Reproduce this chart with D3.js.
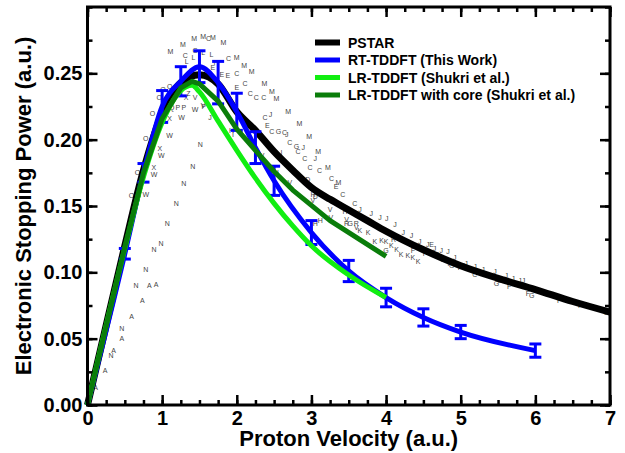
<!DOCTYPE html>
<html><head><meta charset="utf-8">
<script src="https://cdn.jsdelivr.net/npm/d3@7"></script>
<style>body{margin:0;background:#fff}svg{display:block}</style>
</head><body>
<svg id="c" width="625" height="453"></svg>
<script>
// ---------- data ----------
const xTicks = [0,1,2,3,4,5,6,7];
const yTicks = [0,0.05,0.10,0.15,0.20,0.25];
const legendLabels = ["PSTAR","RT-TDDFT (This Work)","LR-TDDFT (Shukri et al.)","LR-TDDFT with core (Shukri et al.)"];

const pstarV = [0,0.25,0.5,0.75,1.0,1.25,1.5,1.75,2.0,2.25,2.5,2.75,3.0,3.25,3.5,3.75,4.0,4.5,5.0,5.5,6.0,6.5,7.0];
const pstarS = [0,0.060,0.120,0.177,0.220,0.243,0.249,0.242,0.221,0.207,0.191,0.177,0.164,0.155,0.147,0.139,0.131,0.117,0.105,0.0955,0.087,0.078,0.070];

const rtV   = [0,0.5,0.75,1.0,1.25,1.5,1.75,2.0,2.25,2.5,3.0,3.5,4.0,4.5,5.0,6.0];
const rtS   = [0,0.114,0.175,0.225,0.244,0.255,0.243,0.221,0.194,0.169,0.130,0.101,0.081,0.066,0.055,0.041];
const rtErr = [0,0.004,0.007,0.012,0.011,0.012,0.016,0.014,0.012,0.011,0.009,0.008,0.007,0.0065,0.005,0.005];

const lrV = [0,0.5,0.75,1.0,1.25,1.4,1.5,1.75,2.0,2.25,2.5,2.75,3.0,3.5,4.0];
const lrS = [0,0.118,0.172,0.213,0.237,0.241,0.236,0.214,0.192,0.171,0.152,0.135,0.120,0.098,0.081];

const coreV = [0,0.5,0.75,1.0,1.25,1.4,1.5,1.75,2.0,2.25,2.5,2.75,3.25,4.0];
const coreS = [0,0.119,0.175,0.216,0.239,0.244,0.242,0.229,0.208,0.192,0.176,0.162,0.139,0.112];

// experimental letter markers (velocity, stopping)
const letA = [[0.11,0.013],[0.235,0.026],[0.35,0.041],[0.46,0.050],[0.59,0.067],[0.735,0.079],[0.83,0.090],[0.92,0.091]];
const letN = [[0.315,0.037],[0.46,0.058],[0.65,0.090],[0.78,0.102],[0.89,0.117],[0.985,0.122],[1.07,0.137],[1.19,0.152],[1.29,0.167],[1.41,0.180],[1.51,0.196]];
const letM = [[1.11,0.2666],[1.28,0.2716],[1.43,0.276],[1.55,0.278],[1.68,0.277],[1.82,0.273],[2.0,0.262],[2.1,0.256],[2.2,0.2515],[2.37,0.242],[2.47,0.2365],[2.53,0.2307],[2.69,0.221],[2.84,0.212],[2.97,0.2024],[3.09,0.191],[3.22,0.179],[3.36,0.168]];
const letO = [[0.59,0.158],[0.67,0.1755],[0.78,0.2007],[0.87,0.220],[0.96,0.2315],[1.01,0.238],[1.10,0.240],[1.22,0.240]];
const letW = [[0.78,0.159],[0.89,0.174],[0.99,0.188],[1.10,0.203],[1.26,0.217],[1.44,0.2225]];
const letX = [[0.89,0.179],[0.97,0.193],[1.10,0.216],[1.32,0.232]];
const letC = [[1.31,0.2634],[1.44,0.267],[1.62,0.276],[1.89,0.261],[2.0,0.2495],[2.11,0.242],[2.18,0.2345],[2.26,0.2315],[2.36,0.2315],[2.38,0.217],[2.47,0.206],[2.64,0.2057],[2.71,0.198],[2.82,0.191],[2.91,0.1856],[2.98,0.179],[3.11,0.177],[3.27,0.1706],[3.42,0.159],[3.58,0.152],[4.68,0.1135],[5.19,0.098],[5.52,0.094],[6.1,0.085]];
const letJ = [[1.64,0.217],[2.45,0.219],[2.67,0.204],[2.89,0.194],[3.05,0.186],[3.65,0.147],[3.80,0.144],[3.92,0.1417],[4.01,0.1404],[4.12,0.136],[4.23,0.130],[4.34,0.128],[4.45,0.123],[4.56,0.121],[4.65,0.118],[4.74,0.1166],[4.83,0.116],[4.92,0.111],[5.07,0.1066],[5.19,0.1046],[5.30,0.1023],[5.46,0.101],[5.61,0.0978],[5.70,0.0953],[5.79,0.094],[5.84,0.0935]];
const letK = [[3.65,0.1317],[3.76,0.1297],[3.85,0.1234],[3.94,0.124],[4.0,0.123],[4.07,0.120],[4.14,0.117],[4.2,0.1136],[4.29,0.113],[4.36,0.111],[4.43,0.108]];
const letE = [[1.68,0.2545],[1.80,0.249],[1.88,0.248],[2.0,0.2395],[2.41,0.211],[3.33,0.165],[4.61,0.121]];
const letL = [[1.33,0.259],[1.42,0.262],[1.55,0.2655],[1.66,0.2645]];
const letF = [[4.36,0.1166],[4.52,0.114],[4.76,0.110],[4.85,0.1066],[4.99,0.104],[5.03,0.1053],[5.65,0.089],[5.9,0.084],[6.32,0.079],[6.6,0.075]];
const letG = [[2.56,0.206],[2.80,0.195],[3.52,0.1367],[4.0,0.1166],[4.88,0.105],[5.48,0.0916],[5.95,0.0828],[6.95,0.0698]];
const letH = [[1.93,0.207],[2.53,0.175],[3.02,0.159],[3.05,0.137],[3.12,0.139],[3.45,0.146]];
const letV = [[1.44,0.232],[1.55,0.226],[2.27,0.19],[2.34,0.188],[2.71,0.168],[3.02,0.154],[3.25,0.147],[3.26,0.141],[3.47,0.140],[3.6,0.134]];
const letP = [[1.21,0.224],[1.29,0.224],[1.56,0.225]];
const letQ = [[1.13,0.224]];
const letR = [[3.47,0.137],[3.6,0.1367],[4.1,0.125]];
const letD = [[2.95,0.17],[3.05,0.157]];
const letI = [[1.7,0.258],[1.95,0.204],[2.6,0.19]];
const letZ = [[1.35,0.235]];

// ---------- layout ----------
const svg = d3.select("#c");
const L = 87.5, R = 610, T = 7, B = 405;
const x = d3.scaleLinear().domain([0,7]).range([L,R]);
const y = d3.scaleLinear().domain([0,0.3]).range([B,T]);
const FONT = "'Liberation Sans', Arial, Helvetica, sans-serif";

const letterSets = {A:letA,N:letN,M:letM,O:letO,W:letW,X:letX,C:letC,J:letJ,K:letK,E:letE,L:letL,F:letF,G:letG,H:letH,V:letV,P:letP,Q:letQ,R:letR,D:letD,I:letI,Z:letZ};
const letters = [];
Object.entries(letterSets).forEach(([k,arr]) => arr.forEach(p => letters.push({ch:k, v:p[0], s:p[1]})));

svg.append("g").selectAll("text").data(letters).join("text")
  .attr("x", d => x(d.v)).attr("y", d => y(d.s))
  .attr("text-anchor","middle").attr("dominant-baseline","central")
  .attr("font-family", FONT).attr("font-size", 7).attr("fill","#444")
  .text(d => d.ch);

const zip = (a,b) => a.map((v,i) => [v,b[i]]);
const lineSmooth = d3.line().x(d => x(d[0])).y(d => y(d[1])).curve(d3.curveMonotoneX);
const lineLin = d3.line().x(d => x(d[0])).y(d => y(d[1]));

svg.append("path").attr("d", lineSmooth(zip(pstarV,pstarS)))
  .attr("fill","none").attr("stroke","#000").attr("stroke-width",7).attr("stroke-linejoin","round");

svg.append("path").attr("d", lineSmooth(zip(rtV,rtS)))
  .attr("fill","none").attr("stroke","#0000ff").attr("stroke-width",5).attr("stroke-linejoin","round");

const eb = rtV.map((v,i) => ({v, s:rtS[i], e:rtErr[i]})).filter(d => d.e > 0);
const ebG = svg.append("g").attr("stroke","#0000ff").attr("stroke-width",3);
ebG.selectAll("line.v").data(eb).join("line").attr("class","v")
  .attr("x1", d => x(d.v)).attr("x2", d => x(d.v))
  .attr("y1", d => y(d.s - d.e)).attr("y2", d => y(d.s + d.e));
ebG.selectAll("line.t").data(eb).join("line").attr("class","t")
  .attr("x1", d => x(d.v)-6).attr("x2", d => x(d.v)+6)
  .attr("y1", d => y(d.s + d.e)).attr("y2", d => y(d.s + d.e));
ebG.selectAll("line.b").data(eb).join("line").attr("class","b")
  .attr("x1", d => x(d.v)-6).attr("x2", d => x(d.v)+6)
  .attr("y1", d => y(d.s - d.e)).attr("y2", d => y(d.s - d.e));

svg.append("path").attr("d", lineSmooth(zip(lrV,lrS)))
  .attr("fill","none").attr("stroke","#11ee11").attr("stroke-width",5).attr("stroke-linejoin","round");
svg.append("path").attr("d", lineLin(zip(coreV,coreS)))
  .attr("fill","none").attr("stroke","#0a7d0a").attr("stroke-width",5).attr("stroke-linejoin","round");

// ---------- axes ----------
const xMinor = d3.range(0, 7.001, 0.25);
const yMinor = d3.range(0, 0.3001, 0.025);
function styleAxis(g){ g.select(".domain").remove(); g.selectAll("line").attr("stroke","#000").attr("stroke-width",2.5);
  g.selectAll("text").attr("font-family",FONT).attr("font-weight","bold").attr("font-size",20).attr("fill","#000"); }

svg.append("g").attr("transform",`translate(0,${B})`)
  .call(d3.axisBottom(x).tickValues(xMinor).tickSize(-5).tickFormat("")).call(styleAxis);
svg.append("g").attr("transform",`translate(0,${B})`)
  .call(d3.axisBottom(x).tickValues(xTicks).tickSize(-10).tickPadding(6).tickFormat(d3.format("d"))).call(styleAxis);
svg.append("g").attr("transform",`translate(0,${T})`)
  .call(d3.axisTop(x).tickValues(xMinor).tickSize(-5).tickFormat("")).call(styleAxis);
svg.append("g").attr("transform",`translate(0,${T})`)
  .call(d3.axisTop(x).tickValues(xTicks).tickSize(-10).tickFormat("")).call(styleAxis);
svg.append("g").attr("transform",`translate(${L},0)`)
  .call(d3.axisLeft(y).tickValues(yMinor).tickSize(-5).tickFormat("")).call(styleAxis);
svg.append("g").attr("transform",`translate(${L},0)`)
  .call(d3.axisLeft(y).tickValues(yTicks).tickSize(-10).tickPadding(5).tickFormat(d3.format(".2f"))).call(styleAxis);
svg.append("g").attr("transform",`translate(${R},0)`)
  .call(d3.axisRight(y).tickValues(yMinor).tickSize(-5).tickFormat("")).call(styleAxis);
svg.append("g").attr("transform",`translate(${R},0)`)
  .call(d3.axisRight(y).tickValues(yTicks).tickSize(-10).tickFormat("")).call(styleAxis);

svg.append("rect").attr("x",L).attr("y",T).attr("width",R-L).attr("height",B-T)
  .attr("fill","none").attr("stroke","#000").attr("stroke-width",3);

svg.append("text").attr("x",(L+R)/2).attr("y",446).attr("text-anchor","middle")
  .attr("font-family",FONT).attr("font-weight","bold").attr("font-size",22).text("Proton Velocity (a.u.)");
svg.append("text").attr("transform",`translate(31,${(T+B)/2}) rotate(-90)`).attr("text-anchor","middle")
  .attr("font-family",FONT).attr("font-weight","bold").attr("font-size",22).text("Electronic Stopping Power (a.u.)");

// ---------- legend ----------
const legColors = ["#000","#0000ff","#11ee11","#0a7d0a"];
const legW = [6,5,5,5];
const legY = [42.5,60,77.5,95];
const lg = svg.append("g");
legendLabels.forEach((t,i) => {
  lg.append("line").attr("x1",315).attr("x2",340).attr("y1",legY[i]).attr("y2",legY[i])
    .attr("stroke",legColors[i]).attr("stroke-width",legW[i]);
  lg.append("text").attr("x",348).attr("y",legY[i]).attr("dy","0.36em")
    .attr("font-family",FONT).attr("font-weight","bold").attr("font-size",14).text(t);
});
</script>
</body></html>
